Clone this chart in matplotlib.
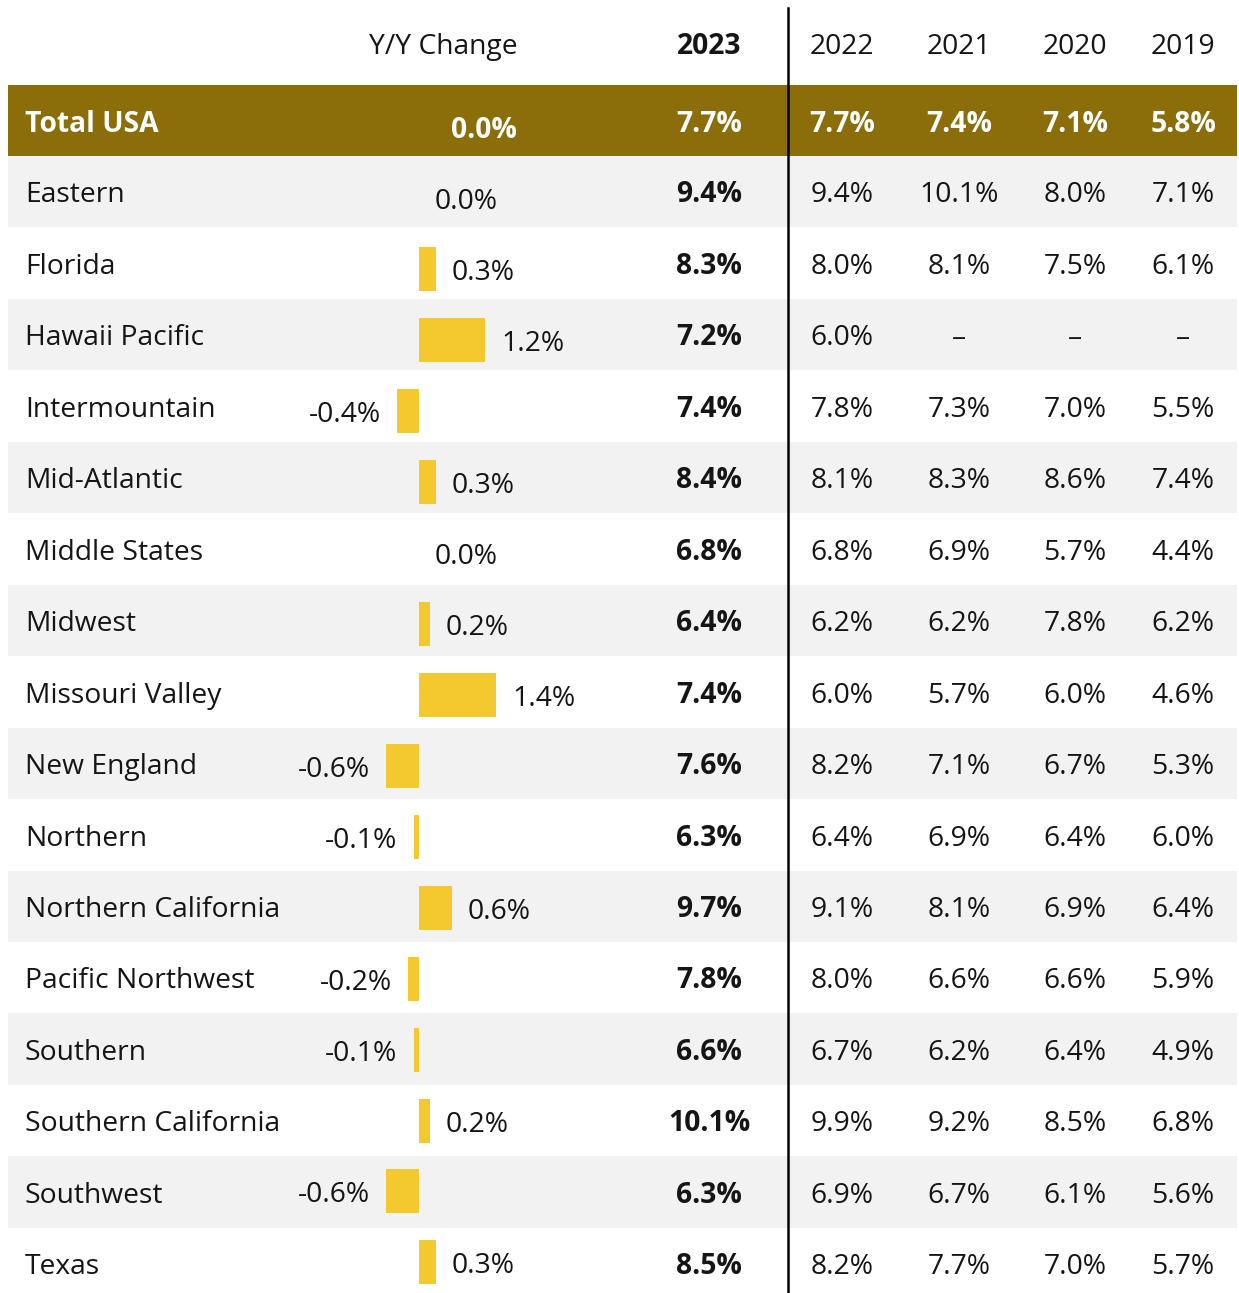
import matplotlib.pyplot as plt
from matplotlib.patches import Rectangle

# table data
regions = ["Total USA", "Eastern", "Florida", "Hawaii Pacific", "Intermountain",
           "Mid-Atlantic", "Middle States", "Midwest", "Missouri Valley",
           "New England", "Northern", "Northern California", "Pacific Northwest",
           "Southern", "Southern California", "Southwest", "Texas"]
yoy = [0.0, 0.0, 0.3, 1.2, -0.4, 0.3, 0.0, 0.2, 1.4, -0.6, -0.1, 0.6,
       -0.2, -0.1, 0.2, -0.6, 0.3]
years = ["2023", "2022", "2021", "2020", "2019"]
v2023 = [7.7, 9.4, 8.3, 7.2, 7.4, 8.4, 6.8, 6.4, 7.4, 7.6, 6.3, 9.7, 7.8, 6.6, 10.1, 6.3, 8.5]
v2022 = [7.7, 9.4, 8.0, 6.0, 7.8, 8.1, 6.8, 6.2, 6.0, 8.2, 6.4, 9.1, 8.0, 6.7, 9.9, 6.9, 8.2]
v2021 = [7.4, 10.1, 8.1, None, 7.3, 8.3, 6.9, 6.2, 5.7, 7.1, 6.9, 8.1, 6.6, 6.2, 9.2, 6.7, 7.7]
v2020 = [7.1, 8.0, 7.5, None, 7.0, 8.6, 5.7, 7.8, 6.0, 6.7, 6.4, 6.9, 6.6, 6.4, 8.5, 6.1, 7.0]
v2019 = [5.8, 7.1, 6.1, None, 5.5, 7.4, 4.4, 6.2, 4.6, 5.3, 6.0, 6.4, 5.9, 4.9, 6.8, 5.6, 5.7]
columns = [v2023, v2022, v2021, v2020, v2019]

GOLD = "#8b6d0a"
BAR = "#f4c930"
GRAY = "#f2f2f2"
TXT = "#151515"
FS = 20.3

plt.rcParams["font.family"] = ["Open Sans", "DejaVu Sans"]

W, H = 1239, 1293
row_top0 = 85
first_h = 71
row_h = 71.45
col_x = [709, 842, 959, 1075, 1183]
zero_px = 419
px_per_pct = 55


def row_top(i):
    return row_top0 if i == 0 else row_top0 + first_h + (i - 1) * row_h


fig = plt.figure(figsize=(W / 100, H / 100), dpi=100)
ax = fig.add_axes([0, 0, 1, 1])
ax.set_xlim(0, W)
ax.set_ylim(H, 0)
ax.axis("off")

# header
ax.text(443, 54, "Y/Y Change", ha="center", va="baseline", fontsize=FS, color=TXT)
for j, yr in enumerate(years):
    ax.text(col_x[j], 54, yr, ha="center", va="baseline", fontsize=FS, color=TXT,
            fontweight="bold" if j == 0 else "normal")

# rows
for i, name in enumerate(regions):
    y0 = row_top(i)
    h = first_h if i == 0 else row_h
    if i == 0:
        bg = GOLD
    elif i % 2 == 1:
        bg = GRAY
    else:
        bg = "white"
    ax.add_patch(Rectangle((8, y0), 1229, h + 0.5, facecolor=bg, edgecolor="none", zorder=0))
    color = "white" if i == 0 else TXT
    ax.text(25, y0 + 46.5, name, ha="left", va="baseline", fontsize=FS, color=color,
            fontweight="bold" if i == 0 else "normal")
    for j, col in enumerate(columns):
        v = col[i]
        s = "\u2013" if v is None else f"{v:.1f}%"
        ax.text(col_x[j], y0 + 46.5, s, ha="center", va="baseline", fontsize=FS, color=color,
                fontweight="bold" if (i == 0 or j == 0) else "normal")

ax.plot([788, 788], [8, H], color="black", lw=1.8, zorder=3)

# bar column (bars sit on their own slightly tighter grid)
bar_c0 = 127.2
bar_step = 70.95
bl, br = 280, 620
bx = fig.add_axes([bl / W, 0, (br - bl) / W, 1])
bx.set_facecolor("none")
bx.set_xlim((bl - zero_px) / px_per_pct, (br - zero_px) / px_per_pct)
bx.set_ylim((H - bar_c0) / bar_step, -bar_c0 / bar_step)
bx.axis("off")

idx = list(range(1, len(regions)))
bx.barh(idx, yoy[1:], height=44 / bar_step, left=0, color=BAR)

off = 16 * 0.72
for i, v in enumerate(yoy):
    yb = i + 11 / bar_step
    if i == 0:
        bx.annotate(f"{v:.1f}%", xy=(0, yb), xytext=(32 * 0.72, 0), textcoords="offset points",
                    ha="left", va="baseline", fontsize=FS, color="white", fontweight="bold")
    elif v < 0:
        bx.annotate(f"{v:.1f}%", xy=(v, yb), xytext=(-off, 0), textcoords="offset points",
                    ha="right", va="baseline", fontsize=FS, color=TXT)
    else:
        bx.annotate(f"{v:.1f}%", xy=(v, yb), xytext=(off, 0), textcoords="offset points",
                    ha="left", va="baseline", fontsize=FS, color=TXT)

fig.savefig("out.png", dpi=100)
